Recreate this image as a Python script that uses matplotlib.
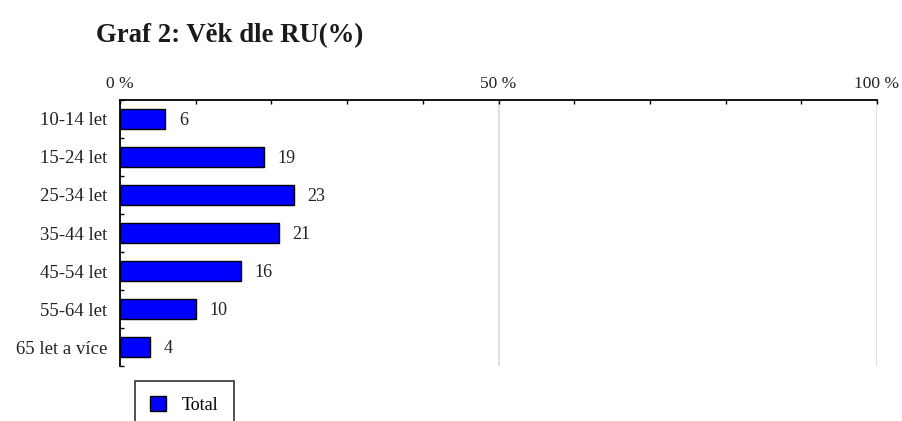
import matplotlib
matplotlib.use("Agg")
import matplotlib.pyplot as plt
import numpy as np

# age groups and their share in percent
categories = ["10-14 let", "15-24 let", "25-34 let", "35-44 let",
              "45-54 let", "55-64 let", "65 let a více"]
values = [6, 19, 23, 21, 16, 10, 4]
series_name = "Total"
x_ticklabels = ["0 %", "50 %", "100 %"]

plt.rcParams["font.family"] = ["Liberation Serif", "DejaVu Serif"]

fig = plt.figure(figsize=(9.03, 4.21), dpi=100)
ax = fig.add_axes([0.1329, 0.1306, 0.9712 - 0.1329, 0.7625 - 0.1306])

y = np.arange(len(categories))
bars = ax.barh(y, values, height=0.55, color="#0000ff", edgecolor="black",
               linewidth=1.0, label=series_name, zorder=3)
for yi, v in zip(y, values):
    ax.text(v + 1.8, yi + 0.05, str(v), va="center", ha="left", fontsize=13,
            color="#222222")

ax.set_xlim(0, 100)
ax.set_ylim(len(categories) - 0.5, -0.5)

# percent scale on top, small ticks every 10 %
ax.xaxis.tick_top()
ax.set_xticks([0, 50, 100])
ax.set_xticklabels(x_ticklabels, fontsize=12.5, color="#222222")
ax.set_xticks(np.arange(0, 101, 10), minor=True)
ax.tick_params(axis="x", which="both", direction="in", length=3, width=1,
               pad=6, top=True, bottom=False)
for xv in [50, 100]:
    ax.axvline(xv, color="#dadada", linewidth=1.2, zorder=1)

ax.set_yticks(y)
ax.set_yticklabels(categories, fontsize=13.5, color="#222222")
ax.tick_params(axis="y", which="major", length=0, pad=9)
ax.set_yticks(np.arange(-0.5, len(categories)), minor=True)
ax.tick_params(axis="y", which="minor", direction="in", length=3, width=1)

for side in ["right", "bottom"]:
    ax.spines[side].set_visible(False)
ax.spines["left"].set_linewidth(1.3)
ax.spines["top"].set_linewidth(1.3)

fig.text(0.106, 0.915, "Graf 2: Věk dle RU(%)", fontsize=19.3, fontweight="bold",
         va="center", ha="left", color="#1a1a1a")

leg = fig.legend(loc="upper left", bbox_to_anchor=(0.1495, 0.095),
                 borderaxespad=0, frameon=True, fancybox=False,
                 edgecolor="black", fontsize=13, handlelength=0.85,
                 handleheight=0.85, borderpad=0.85, handletextpad=0.9)
leg.get_frame().set_linewidth(1.2)

fig.savefig("out.png", dpi=100)
